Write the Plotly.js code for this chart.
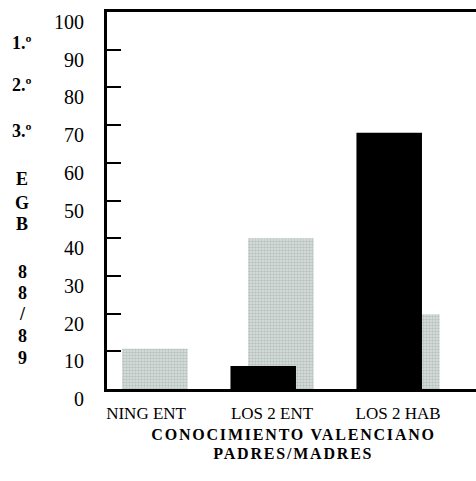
<!DOCTYPE html>
<html>
<head>
<meta charset="utf-8">
<script src="https://cdn.plot.ly/plotly-3.0.1.min.js"></script>
<style>
html,body{margin:0;padding:0;overflow:hidden;background:#fff;}
#chart{width:500px;height:481px;}
.spaced text{letter-spacing:1.8px;}
</style>
</head>
<body>
<div id="chart"></div>
<script>
// ---- data ----
const categories = ['NING ENT', 'LOS 2 ENT', 'LOS 2 HAB'];
const grayValues = [10.7, 40, 19.8];
const blackValues = [0, 6.1, 68];
const yTickVals = [0, 10, 20, 30, 40, 50, 60, 70, 80, 90, 100];
const sideLabels = ['1.º', '2.º', '3.º', 'E', 'G', 'B', '8', '8', '/', '8', '9'];
const titleLines = ['CONOCIMIENTO VALENCIANO', 'PADRES/MADRES'];

// ---- layout helpers (pixel positions of the page) ----
const plotTop = 12, plotBottom = 389, plotLeft = 107, plotRight = 490;
const sideLabelPx = [43, 85, 131, 179, 203, 224, 272, 293, 314, 336, 358];
const pyToPaper = py => (plotBottom - py) / (plotBottom - plotTop);
const pxToPaper = px => (px - plotLeft) / (plotRight - plotLeft);

const serif = 'Liberation Serif, Times New Roman, serif';

const traces = [
  {
    type: 'bar', x: categories, y: grayValues,
    width: 0.52, offset: -0.19,
    marker: {
      color: '#dbe3df', line: {width: 0},
      pattern: {shape: '.', fgcolor: '#b9c3bf', bgcolor: '#dde5e1', size: 3, solidity: 0.6, fillmode: 'replace'}
    },
    hoverinfo: 'skip', showlegend: false
  },
  {
    type: 'bar', x: categories, y: blackValues,
    width: 0.52, offset: -0.33,
    marker: {color: '#000000', line: {width: 0}},
    hoverinfo: 'skip', showlegend: false
  }
];

const annotations = [];
sideLabels.forEach((t, i) => {
  annotations.push({
    text: t, xref: 'paper', yref: 'paper',
    x: pxToPaper(22), y: pyToPaper(sideLabelPx[i]),
    xanchor: 'center', yanchor: 'middle', showarrow: false,
    font: {family: serif, size: 18, color: '#000', weight: 'bold'}
  });
});
const titlePx = [434, 453];
titleLines.forEach((t, i) => {
  annotations.push({
    text: '<b>' + t + '</b>', xref: 'paper', yref: 'paper',
    x: pxToPaper(293), y: pyToPaper(titlePx[i]),
    xanchor: 'center', yanchor: 'middle', showarrow: false,
    font: {family: serif, size: 16, color: '#000'}
  });
});

const layout = {
  width: 500, height: 481,
  margin: {l: plotLeft, r: 500 - plotRight, t: plotTop, b: 481 - plotBottom, pad: 0},
  paper_bgcolor: '#fff', plot_bgcolor: '#fff',
  barmode: 'overlay',
  xaxis: {
    type: 'category', range: [-0.31, 2.73],
    showline: true, linewidth: 3, linecolor: '#000', mirror: true,
    showgrid: false, zeroline: false, ticks: '',
    tickfont: {family: serif, size: 17, color: '#000'},
    ticklabelstandoff: 7
  },
  yaxis: {
    range: [0, 100], tickvals: yTickVals,
    showline: true, linewidth: 3, linecolor: '#000', mirror: true,
    showgrid: false, zeroline: false,
    ticks: 'inside', ticklen: 14, tickwidth: 2, tickcolor: '#000',
    tickfont: {family: serif, size: 20, color: '#000'},
    ticklabelstandoff: 16, ticklabelshift: 10
  },
  annotations: annotations
};

Plotly.newPlot('chart', traces, layout, {staticPlot: true, displayModeBar: false}).then(() => {
  // letter-spacing on the two bottom title lines
  const anns = document.querySelectorAll('.annotation');
  const n = anns.length;
  for (let i = n - titleLines.length; i < n; i++) anns[i].classList.add('spaced');
});
</script>
</body>
</html>
